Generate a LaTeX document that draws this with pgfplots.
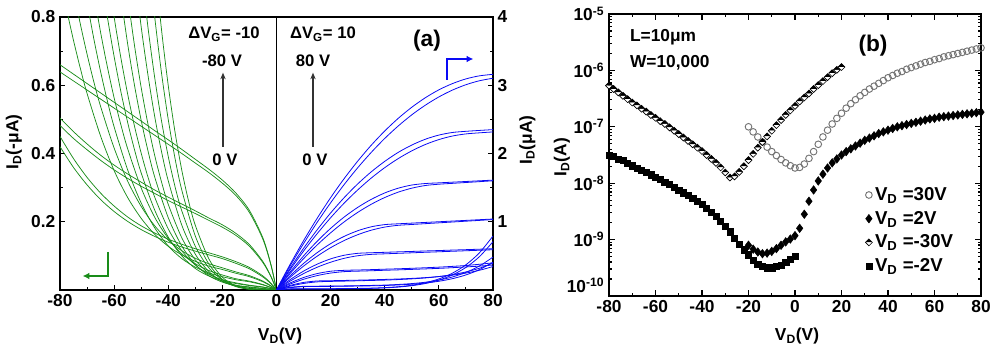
\documentclass[border=0pt]{standalone}
\usepackage{fontspec}
\setmainfont{Liberation Sans}
\usepackage{pgfplots}
\pgfplotsset{compat=1.18}
\usetikzlibrary{plotmarks,arrows.meta}
\definecolor{gr}{RGB}{25,140,25}
\definecolor{bl}{RGB}{10,10,245}
\newcommand{\tf}{\fontsize{13}{15}\selectfont\bfseries}
\newcommand{\lf}{\fontsize{14}{16}\selectfont\bfseries}
\pgfplotsset{
  gline/.style={color=gr, line width=0.55pt, smooth, no marks},
  bline/.style={color=bl, line width=0.6pt, smooth, no marks},
}
\begin{document}
\begin{tikzpicture}[x=1pt,y=1pt]
\path[use as bounding box] (0,0) rectangle (750,267);

% ---------------- panel (a), left axis (green) ----------------
\begin{axis}[
  at={(45pt,49.5pt)}, anchor=south west,
  scale only axis, width=324.75pt, height=204.75pt,
  xmin=-80, xmax=80, ymin=0, ymax=0.8,
  xtick={-80,-60,-40,-20,0,20,40,60,80},
  xticklabels={-80,-60,-40,-20,0,20,40,60,80},
  ytick={0.2,0.4,0.6,0.8}, yticklabels={0.2,0.4,0.6,0.8},
  minor x tick num=1, minor y tick num=1,
  xtick pos=bottom, ytick pos=left,
  tick align=inside, major tick length=4pt, minor tick length=2.5pt,
  tick style={black, line width=0.8pt},
  axis line style={line width=1.1pt},
  tick label style={font=\tf},
  /pgf/number format/assume math mode=true,
]
\addplot[gline] coordinates {(0,0) (-2,0.073) (-5,0.152) (-10,0.233) (-15,0.284) (-20,0.322) (-25,0.354) (-30,0.383) (-35,0.412) (-40,0.44) (-45,0.467) (-50,0.495) (-55,0.5225) (-60,0.55) (-65,0.5775) (-70,0.605) (-75,0.6325) (-80,0.66)};
\addplot[gline] coordinates {(0,0) (-2,0.071) (-5,0.148) (-10,0.227) (-15,0.277) (-20,0.313) (-25,0.344) (-30,0.372) (-35,0.400) (-40,0.427) (-45,0.4535) (-50,0.48) (-55,0.5065) (-60,0.533) (-65,0.5595) (-70,0.586) (-75,0.6125) (-80,0.639)};
\addplot[gline] coordinates {(0,0) (-2,0.039) (-5,0.083) (-10,0.133) (-15,0.166) (-20,0.191) (-25,0.211) (-30,0.232) (-35,0.252) (-40,0.272) (-45,0.293) (-50,0.316) (-55,0.340) (-60,0.366) (-65,0.395) (-70,0.428) (-75,0.464) (-80,0.504)};
\addplot[gline] coordinates {(0,0) (-2,0.038) (-5,0.080) (-10,0.128) (-15,0.160) (-20,0.184) (-25,0.204) (-30,0.224) (-35,0.243) (-40,0.262) (-45,0.283) (-50,0.304) (-55,0.327) (-60,0.352) (-65,0.380) (-70,0.411) (-75,0.444) (-80,0.482)};
\addplot[gline] coordinates {(0,0) (-2,0.019) (-5,0.041) (-10,0.066) (-15,0.083) (-20,0.097) (-25,0.109) (-30,0.121) (-35,0.134) (-40,0.149) (-45,0.167) (-50,0.188) (-55,0.214) (-60,0.246) (-65,0.284) (-70,0.330) (-75,0.385) (-80,0.450)};
\addplot[gline] coordinates {(0,0) (-2,0.018) (-5,0.038) (-10,0.062) (-15,0.078) (-20,0.092) (-25,0.103) (-30,0.114) (-35,0.126) (-40,0.140) (-45,0.157) (-50,0.177) (-55,0.201) (-60,0.230) (-65,0.265) (-70,0.308) (-75,0.359) (-80,0.420)};
\addplot[gline] coordinates {(0,0) (-2,0.012) (-5,0.026) (-10,0.042) (-15,0.053) (-20,0.065) (-25,0.077) (-30,0.093) (-35,0.115) (-40,0.146) (-45,0.188) (-50,0.245) (-55,0.319) (-60,0.416) (-65,0.538) (-67.5,0.610) (-70,0.691) (-72.5,0.780) (-75,0.879)};
\addplot[gline] coordinates {(0,0) (-2,0.011) (-5,0.024) (-10,0.039) (-15,0.049) (-20,0.060) (-25,0.070) (-30,0.084) (-35,0.103) (-40,0.128) (-45,0.163) (-50,0.210) (-55,0.271) (-60,0.350) (-65,0.451) (-70,0.576) (-72.5,0.650) (-75,0.731) (-77.5,0.820)};
\addplot[gline] coordinates {(0,0) (-2,0.007) (-5,0.016) (-10,0.026) (-15,0.033) (-20,0.044) (-25,0.057) (-30,0.077) (-35,0.106) (-40,0.151) (-45,0.213) (-50,0.299) (-55,0.414) (-57.5,0.484) (-60,0.563) (-62.5,0.654) (-65,0.755) (-67.5,0.869)};
\addplot[gline] coordinates {(0,0) (-2,0.007) (-5,0.015) (-10,0.024) (-15,0.030) (-20,0.039) (-25,0.050) (-30,0.067) (-35,0.092) (-40,0.129) (-45,0.182) (-50,0.255) (-55,0.352) (-60,0.478) (-62.5,0.554) (-65,0.640) (-67.5,0.736) (-70,0.843)};
\addplot[gline] coordinates {(0,0) (-2,0.004) (-5,0.009) (-10,0.014) (-15,0.021) (-20,0.030) (-25,0.046) (-30,0.073) (-35,0.115) (-40,0.179) (-45,0.272) (-47.5,0.331) (-50,0.401) (-52.5,0.481) (-55,0.574) (-57.5,0.680) (-60,0.800) (-62.5,0.937)};
\addplot[gline] coordinates {(0,0) (-2,0.004) (-5,0.008) (-10,0.013) (-15,0.019) (-20,0.027) (-25,0.041) (-30,0.063) (-35,0.100) (-40,0.155) (-45,0.234) (-50,0.343) (-52.5,0.412) (-55,0.491) (-57.5,0.581) (-60,0.684) (-62.5,0.800) (-65,0.931)};
\addplot[gline] coordinates {(0,0) (-2,0.002) (-5,0.005) (-10,0.009) (-15,0.014) (-20,0.026) (-25,0.049) (-30,0.088) (-35,0.153) (-40,0.251) (-42.5,0.317) (-45,0.394) (-47.5,0.486) (-50,0.593) (-52.5,0.718) (-55,0.861)};
\addplot[gline] coordinates {(0,0) (-2,0.002) (-5,0.004) (-10,0.008) (-15,0.013) (-20,0.023) (-25,0.042) (-30,0.075) (-35,0.129) (-40,0.212) (-45,0.331) (-47.5,0.408) (-50,0.497) (-52.5,0.601) (-55,0.721) (-57.5,0.859)};
\addplot[gline] coordinates {(0,0) (-2,0.001) (-5,0.002) (-10,0.005) (-15,0.013) (-20,0.030) (-25,0.065) (-30,0.128) (-35,0.232) (-37.5,0.303) (-40,0.391) (-42.5,0.496) (-45,0.622) (-47.5,0.770) (-50,0.943)};
\addplot[gline] coordinates {(0,0) (-2,0.001) (-5,0.002) (-10,0.005) (-15,0.011) (-20,0.025) (-25,0.054) (-30,0.105) (-35,0.190) (-40,0.320) (-42.5,0.406) (-45,0.508) (-47.5,0.630) (-50,0.771) (-52.5,0.936)};
\addplot[gline] coordinates {(0,0) (-5,0.0001) (-10,0.0023) (-15,0.0118) (-20,0.0374) (-25,0.0914) (-30,0.1895) (-32.5,0.261) (-35,0.3512) (-37.5,0.4628) (-40,0.599) (-42.5,0.7635) (-45,0.9595)};
\addplot[gline] coordinates {(0,0) (-5,0.0001) (-10,0.002) (-15,0.0099) (-20,0.0312) (-25,0.0762) (-30,0.158) (-35,0.2928) (-37.5,0.3858) (-40,0.4994) (-42.5,0.6364) (-45,0.8) (-47.5,0.9933)};
\addplot[black, line width=0.9pt] coordinates {(0,0) (0,0.8)};
\end{axis}

% ---------------- panel (a), right axis (blue) ----------------
\begin{axis}[
  at={(45pt,49.5pt)}, anchor=south west,
  scale only axis, width=324.75pt, height=204.75pt,
  xmin=-80, xmax=80, ymin=0, ymax=4,
  axis x line=none, axis y line*=right,
  ytick={1,2,3,4}, yticklabels={1,2,3,4}, minor y tick num=1,
  tick align=inside, major tick length=4pt, minor tick length=2.5pt,
  tick style={black, line width=0.8pt},
  axis line style={line width=1.1pt},
  tick label style={font=\tf},
  /pgf/number format/assume math mode=true,
]
\addplot[bline] coordinates {(0,0) (2,0.152) (5,0.373) (10,0.723) (15,1.049) (20,1.353) (25,1.632) (30,1.888) (35,2.121) (40,2.33) (45,2.516) (50,2.678) (55,2.817) (60,2.933) (65,3.024) (70,3.093) (75,3.138) (80,3.16)};
\addplot[bline] coordinates {(0,0) (2,0.143) (5,0.351) (10,0.680) (15,0.990) (20,1.278) (25,1.545) (30,1.791) (35,2.016) (40,2.221) (45,2.404) (50,2.567) (55,2.708) (60,2.829) (65,2.929) (70,3.008) (75,3.066) (80,3.103)};
\addplot[bline] coordinates {(0,0) (2,0.130) (5,0.317) (10,0.611) (15,0.881) (20,1.129) (25,1.353) (30,1.554) (35,1.731) (40,1.885) (45,2.017) (50,2.124) (55,2.209) (60,2.270) (65,2.308) (70,2.325) (75,2.338) (80,2.35)};
\addplot[bline] coordinates {(0,0) (2,0.120) (5,0.295) (10,0.570) (15,0.824) (20,1.059) (25,1.273) (30,1.466) (35,1.640) (40,1.793) (45,1.926) (50,2.039) (55,2.132) (60,2.204) (65,2.256) (70,2.287) (75,2.303) (80,2.316)};
\addplot[bline] coordinates {(0,0) (2,0.108) (5,0.262) (10,0.499) (15,0.713) (20,0.903) (25,1.069) (30,1.210) (35,1.328) (40,1.422) (45,1.492) (50,1.538) (55,1.560) (60,1.570) (65,1.58) (70,1.59) (75,1.60) (80,1.61)};
\addplot[bline] coordinates {(0,0) (2,0.098) (5,0.240) (10,0.459) (15,0.659) (20,0.838) (25,0.998) (30,1.137) (35,1.256) (40,1.355) (45,1.434) (50,1.492) (55,1.531) (60,1.55) (65,1.5625) (70,1.575) (75,1.5875) (80,1.60)};
\addplot[bline] coordinates {(0,0) (2,0.086) (5,0.207) (10,0.389) (15,0.546) (20,0.679) (25,0.786) (30,0.868) (35,0.926) (40,0.958) (45,0.970) (50,0.98) (55,0.99) (60,1.00) (65,1.01) (70,1.02) (75,1.03) (80,1.04)};
\addplot[bline] coordinates {(0,0) (2,0.076) (5,0.185) (10,0.350) (15,0.495) (20,0.620) (25,0.725) (30,0.810) (35,0.876) (40,0.922) (45,0.948) (50,0.960) (55,0.972) (60,0.984) (65,0.996) (70,1.008) (75,1.02) (80,1.032)};
\addplot[bline] coordinates {(0,0) (2,0.063) (5,0.151) (10,0.277) (15,0.378) (20,0.456) (25,0.509) (30,0.537) (35,0.546) (40,0.552) (45,0.559) (50,0.565) (55,0.572) (60,0.578) (65,0.585) (70,0.591) (75,0.598) (80,0.604)};
\addplot[bline] coordinates {(0,0) (2,0.054) (5,0.129) (10,0.240) (15,0.333) (20,0.407) (25,0.464) (30,0.502) (35,0.522) (40,0.530) (45,0.5375) (50,0.545) (55,0.5525) (60,0.56) (65,0.5675) (70,0.575) (75,0.5825) (80,0.59)};
\addplot[bline] coordinates {(0,0) (2,0.044) (5,0.103) (10,0.183) (15,0.240) (20,0.275) (25,0.288) (30,0.293) (35,0.2985) (40,0.305) (45,0.311) (50,0.318) (55,0.326) (60,0.335) (65,0.346) (70,0.359) (75,0.377) (80,0.398)};
\addplot[bline] coordinates {(0,0) (2,0.037) (5,0.087) (10,0.157) (15,0.211) (20,0.248) (25,0.269) (30,0.276) (35,0.282) (40,0.289) (45,0.295) (50,0.302) (55,0.309) (60,0.317) (65,0.327) (70,0.338) (75,0.350) (80,0.366)};
\addplot[bline] coordinates {(0,0) (2,0.030) (5,0.067) (10,0.111) (15,0.132) (20,0.136) (25,0.14) (30,0.144) (35,0.149) (40,0.155) (45,0.161) (50,0.170) (55,0.181) (60,0.197) (65,0.218) (70,0.248) (75,0.289) (80,0.344)};
\addplot[bline] coordinates {(0,0) (2,0.025) (5,0.057) (10,0.096) (15,0.119) (20,0.126) (25,0.13) (30,0.135) (35,0.140) (40,0.145) (45,0.153) (50,0.163) (55,0.177) (60,0.197) (65,0.225) (70,0.265) (75,0.319) (80,0.394)};
\addplot[bline] coordinates {(0,0) (2,0.019) (5,0.040) (10,0.054) (15,0.056) (20,0.058) (25,0.060) (30,0.063) (35,0.067) (40,0.072) (45,0.081) (50,0.094) (55,0.114) (60,0.145) (65,0.191) (70,0.258) (75,0.352) (80,0.482)};
\addplot[bline] coordinates {(0,0) (2,0.016) (5,0.034) (10,0.049) (15,0.051) (20,0.053) (25,0.055) (30,0.058) (35,0.061) (40,0.066) (45,0.074) (50,0.085) (55,0.102) (60,0.128) (65,0.166) (70,0.221) (75,0.299) (80,0.407)};
\addplot[bline] coordinates {(0,0) (2,0.009) (5,0.016) (10,0.017) (15,0.018) (20,0.019) (25,0.021) (30,0.023) (35,0.027) (40,0.035) (45,0.048) (50,0.070) (55,0.106) (60,0.162) (65,0.247) (70,0.370) (75,0.546) (80,0.791)};
\addplot[bline] coordinates {(0,0) (2,0.007) (5,0.013) (10,0.014) (15,0.015) (20,0.016) (25,0.018) (30,0.020) (35,0.024) (40,0.031) (45,0.043) (50,0.063) (55,0.095) (60,0.145) (65,0.221) (70,0.331) (75,0.489) (80,0.708)};
\end{axis}

% ---------------- panel (b) ----------------
\begin{axis}[
  at={(456.75pt,45pt)}, anchor=south west,
  scale only axis, width=279pt, height=211.5pt,
  xmin=-80, xmax=80, ymin=-10, ymax=-5,
  xtick={-80,-60,-40,-20,0,20,40,60,80},
  xticklabels={-80,-60,-40,-20,0,20,40,60,80},
  minor x tick num=1,
  ytick={-9,-8,-7,-6,-5},
  yticklabels={10\textsuperscript{-9},10\textsuperscript{-8},10\textsuperscript{-7},10\textsuperscript{-6},10\textsuperscript{-5}},
  extra y ticks={-10},
  extra y tick labels={10\textsuperscript{-10}},
  extra y tick style={yticklabel style={yshift=8pt}},
  minor ytick={-9.699,-9.523,-9.398,-9.301,-9.222,-9.155,-9.097,-9.046,
               -8.699,-8.523,-8.398,-8.301,-8.222,-8.155,-8.097,-8.046,
               -7.699,-7.523,-7.398,-7.301,-7.222,-7.155,-7.097,-7.046,
               -6.699,-6.523,-6.398,-6.301,-6.222,-6.155,-6.097,-6.046,
               -5.699,-5.523,-5.398,-5.301,-5.222,-5.155,-5.097,-5.046},
  tick pos=both, tick align=inside,
  major tick length=4.5pt, minor tick length=2.5pt,
  tick style={black, line width=0.9pt},
  axis line style={line width=1.8pt},
  tick label style={font=\tf},
  /pgf/number format/assume math mode=true,
  legend style={at={(0.685,0.40)}, anchor=north west, draw=none, fill=none,
    font=\lf, row sep=2.5pt, inner sep=1pt},
  legend cell align=left,
]
\addplot[only marks, mark=o, mark size=2.5pt, mark options={draw=black!55, line width=0.7pt}] coordinates {
(-20,-7.00) (-18,-7.09) (-16,-7.18) (-14,-7.27) (-12,-7.36) (-10,-7.44) (-8,-7.51) (-6,-7.58) (-4,-7.64) (-2,-7.69) (0,-7.73) (2,-7.72) (4,-7.66) (6,-7.56) (8,-7.44) (10,-7.31) (12,-7.18) (14,-7.06) (16,-6.95) (18,-6.85) (20,-6.76) (22,-6.67) (24,-6.59) (26,-6.52) (28,-6.45) (30,-6.39) (32,-6.33) (34,-6.28) (36,-6.23) (38,-6.18) (40,-6.13) (42,-6.09) (44,-6.05) (46,-6.02) (48,-5.98) (50,-5.95) (52,-5.92) (54,-5.89) (56,-5.86) (58,-5.84) (60,-5.81) (62,-5.79) (64,-5.76) (66,-5.74) (68,-5.72) (70,-5.70) (72,-5.68) (74,-5.66) (76,-5.64) (78,-5.62) (80,-5.60)};
\addlegendentry{V\textsubscript{D} =30V}
\addplot[only marks, mark=diamond*, mark size=3.2pt, mark options={fill=black, draw=black}] coordinates {
(-20,-9.10) (-18,-9.17) (-16,-9.22) (-14,-9.25) (-12,-9.24) (-10,-9.21) (-8,-9.16) (-6,-9.10) (-4,-9.04) (-2,-8.99) (0,-8.93) (2,-8.80) (4,-8.55) (6,-8.32) (8,-8.12) (10,-7.96) (12,-7.84) (14,-7.73) (16,-7.64) (18,-7.57) (20,-7.50) (22,-7.44) (24,-7.39) (26,-7.34) (28,-7.29) (30,-7.24) (32,-7.20) (34,-7.16) (36,-7.12) (38,-7.09) (40,-7.06) (42,-7.03) (44,-7.00) (46,-6.98) (48,-6.96) (50,-6.94) (52,-6.92) (54,-6.90) (56,-6.88) (58,-6.86) (60,-6.85) (62,-6.83) (64,-6.82) (66,-6.81) (68,-6.80) (70,-6.79) (72,-6.78) (74,-6.77) (76,-6.76) (78,-6.75) (80,-6.74)};
\addlegendentry{V\textsubscript{D} =2V}
\addplot[only marks, mark=halfsquare*, mark size=2.6pt, mark options={fill=black, draw=black, rotate=180, line width=0.5pt}] coordinates {
(-80,-6.27) (-78,-6.33) (-76,-6.39) (-74,-6.45) (-72,-6.51) (-70,-6.57) (-68,-6.62) (-66,-6.68) (-64,-6.73) (-62,-6.79) (-60,-6.84) (-58,-6.90) (-56,-6.95) (-54,-7.01) (-52,-7.07) (-50,-7.13) (-48,-7.19) (-46,-7.25) (-44,-7.31) (-42,-7.37) (-40,-7.43) (-38,-7.50) (-36,-7.57) (-34,-7.64) (-32,-7.72) (-30,-7.81) (-28,-7.90) (-26,-7.88) (-24,-7.80) (-22,-7.70) (-20,-7.59) (-18,-7.48) (-16,-7.37) (-14,-7.27) (-12,-7.17) (-10,-7.07) (-8,-6.97) (-6,-6.88) (-4,-6.79) (-2,-6.71) (0,-6.63) (2,-6.55) (4,-6.48) (6,-6.41) (8,-6.33) (10,-6.26) (12,-6.19) (14,-6.12) (16,-6.05) (18,-5.99) (20,-5.94)};
\addlegendentry{V\textsubscript{D} =-30V}
\addplot[only marks, mark=square*, mark size=2.3pt, mark options={fill=black, draw=black}] coordinates {
(-80,-7.50) (-78,-7.53) (-76,-7.57) (-74,-7.60) (-72,-7.65) (-70,-7.69) (-68,-7.73) (-66,-7.77) (-64,-7.81) (-62,-7.85) (-60,-7.89) (-58,-7.93) (-56,-7.98) (-54,-8.02) (-52,-8.07) (-50,-8.12) (-48,-8.17) (-46,-8.22) (-44,-8.27) (-42,-8.32) (-40,-8.38) (-38,-8.45) (-36,-8.51) (-34,-8.58) (-32,-8.67) (-30,-8.76) (-28,-8.86) (-26,-8.97) (-24,-9.08) (-22,-9.18) (-20,-9.27) (-18,-9.36) (-16,-9.43) (-14,-9.48) (-12,-9.50) (-10,-9.50) (-8,-9.48) (-6,-9.45) (-4,-9.40) (-2,-9.35) (0,-9.30)};
\addlegendentry{V\textsubscript{D} =-2V}
\end{axis}

% ---------------- labels and annotations ----------------
\node[font=\tf] at (210,15) {V\textsubscript{D}(V)};
\node[font=\tf, rotate=90] at (10.5,160.5) {I\textsubscript{D}(-μA)};
\node[font=\tf, rotate=90] at (395.5,162) {I\textsubscript{D}(μA)};
\node[font=\tf] at (597.75,15) {V\textsubscript{D}(V)};
\node[font=\tf, rotate=90] at (421.5,149) {I\textsubscript{D}(A)};

\node[font=\fontsize{12.5}{14}\selectfont\bfseries] at (168,241.5) {ΔV\textsubscript{G}= -10};
\node[font=\fontsize{12.5}{14}\selectfont\bfseries] at (166.5,221.5) {-80 V};
\node[font=\fontsize{12.5}{14}\selectfont\bfseries] at (168.75,147.5) {0 V};
\draw[black!80, line width=1.3pt, -{Stealth[length=5pt,width=4pt]}] (167.25,157) -- (167.25,212.5);
\node[font=\fontsize{12.5}{14}\selectfont\bfseries] at (242.25,241.5) {ΔV\textsubscript{G}= 10};
\node[font=\fontsize{12.5}{14}\selectfont\bfseries] at (234.75,221.5) {80 V};
\node[font=\fontsize{12.5}{14}\selectfont\bfseries] at (236.25,147.5) {0 V};
\draw[black!80, line width=1.3pt, -{Stealth[length=5pt,width=4pt]}] (234.75,157) -- (234.75,212.5);
\node[font=\fontsize{17}{20}\selectfont\bfseries] at (320.25,236.5) {(a)};
\draw[bl, line width=0.9pt, -{Latex[length=5pt,width=5pt]}] (335.25,207) -- (335.25,222.75) -- (355,222.75);
\draw[gr, line width=0.9pt, -{Latex[length=5pt,width=5pt]}] (81,78) -- (81,60) -- (62,60);

\node[font=\fontsize{13}{15}\selectfont\bfseries, anchor=west] at (469,239) {L=10μm};
\node[font=\fontsize{13}{15}\selectfont\bfseries, anchor=west] at (469,220) {W=10,000};
\node[font=\fontsize{17}{20}\selectfont\bfseries] at (654.75,233) {(b)};
\end{tikzpicture}
\end{document}
